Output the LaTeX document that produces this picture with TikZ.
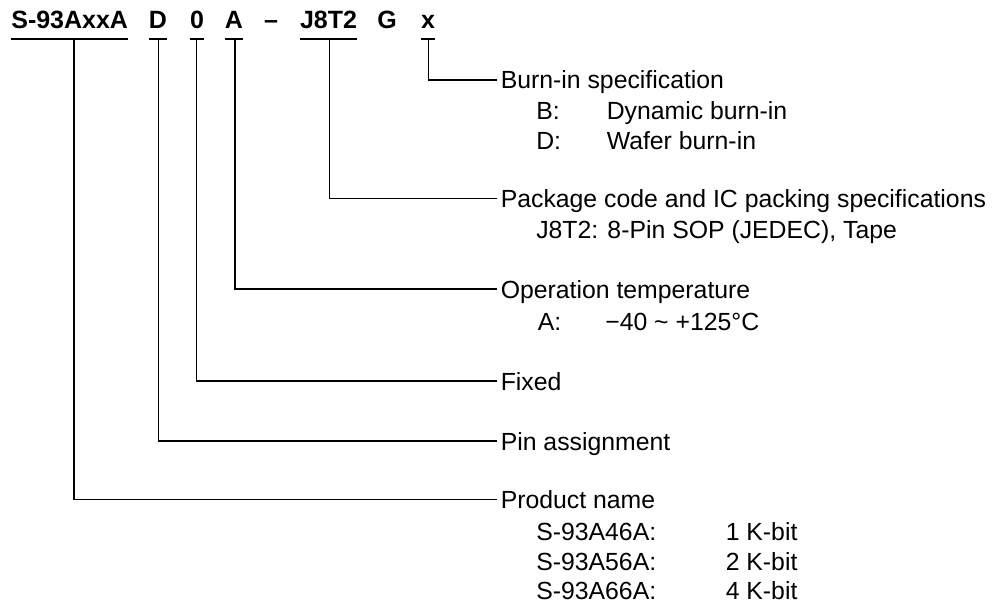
\documentclass[tikz,border=0pt]{standalone}
\usepackage{fontspec}
\setmainfont{Liberation Sans}
\begin{document}
\begin{tikzpicture}[x=0.75pt,y=-0.75pt,
  hdr/.style={font=\fontsize{18.75}{22}\selectfont\bfseries, inner sep=0pt, anchor=base},
  lbl/.style={font=\fontsize{18.6}{22}\selectfont, inner sep=0pt, anchor=base west},
  conn/.style={line width=1.1pt, black},
  uline/.style={line width=1.1pt, black}]
\useasboundingbox (0,0) rectangle (998,608);
% header
\node[hdr] (hS) at (69.7,28) {S-93AxxA};
\node[hdr] (hD) at (158,28) {D};
\node[hdr] (h0) at (197,28) {0};
\node[hdr] (hA) at (234,28) {A};
\node[hdr] (hdash) at (271,28) {–};
\node[hdr] (hJ) at (328.5,28) {J8T2};
\node[hdr] (hG) at (387,28) {G};
\node[hdr] (hx) at (428,28) {x};
% underlines
\foreach \n in {S,D,0,A,J,x} {
  \draw[uline] ([yshift=-8.25pt]h\n.base west) -- ([yshift=-8.25pt]h\n.base east);
}
% connector start points on the underlines
\coordinate (uS) at (74,39);
\coordinate (uD) at (158.3,39);
\coordinate (u0) at (196.3,39);
\coordinate (uA) at (235,39);
\coordinate (uJ) at (329.3,39);
\coordinate (ux) at (428.3,39);
% connector ends
\coordinate (ex) at (497,80);
\coordinate (eJ) at (497,198.5);
\coordinate (eA) at (497,289);
\coordinate (e0) at (497,381);
\coordinate (eD) at (497,441);
\coordinate (eS) at (497,499.5);
% labels
\node[lbl] (lBurn) at (500.5,88.5) {Burn-in specification};
\node[lbl] (lB) at (536,119.3) {B:};
\node[lbl] (lBd) at (606.5,119.3) {Dynamic burn-in};
\node[lbl] (lD) at (536,149) {D:};
\node[lbl] (lDd) at (606.5,149) {Wafer burn-in};
\node[lbl] (lPkg) at (500.5,207.5) {Package code and IC packing specifications};
\node[lbl] (lJ) at (536,238.5) {J8T2: 8-Pin SOP (JEDEC), Tape};
\node[lbl] (lOp) at (500.5,298) {Operation temperature};
\node[lbl] (lA) at (537.5,330) {A:};
\node[lbl] (lAd) at (605,330) {−40 \textasciitilde{} +125°C};
\node[lbl] (lFix) at (500.5,390) {Fixed};
\node[lbl] (lPin) at (500.5,450) {Pin assignment};
\node[lbl] (lProd) at (500.5,508.5) {Product name};
\node[lbl] (lP1) at (536,540) {S-93A46A:};
\node[lbl] (lP1d) at (725.5,540) {1 K-bit};
\node[lbl] (lP2) at (536,570) {S-93A56A:};
\node[lbl] (lP2d) at (725.5,570) {2 K-bit};
\node[lbl] (lP3) at (536,599.3) {S-93A66A:};
\node[lbl] (lP3d) at (725.5,599.3) {4 K-bit};
% connectors
\draw[conn] (ux) |- (ex);
\draw[conn] (uJ) |- (eJ);
\draw[conn] (uA) |- (eA);
\draw[conn] (u0) |- (e0);
\draw[conn] (uD) |- (eD);
\draw[conn] (uS) |- (eS);
\end{tikzpicture}
\end{document}
